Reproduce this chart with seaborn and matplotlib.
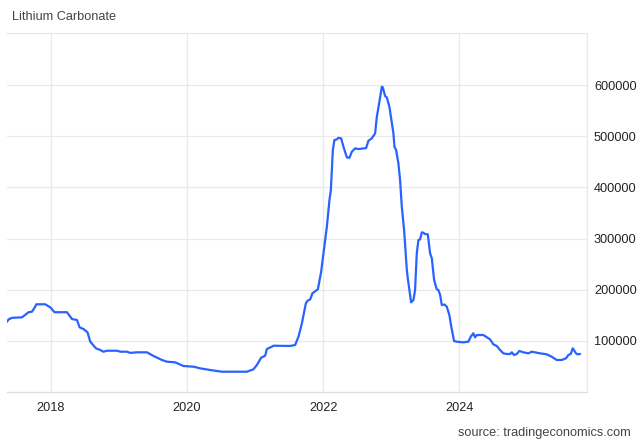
import matplotlib
matplotlib.use("Agg")
import matplotlib.pyplot as plt
import seaborn as sns
import pandas as pd

# decimal year, price (CNY/T)
years = [2017.354, 2017.377, 2017.427, 2017.574, 2017.623, 2017.671, 2017.721, 2017.769, 2017.784,
         2017.916, 2017.990, 2018.053, 2018.235, 2018.308, 2018.382, 2018.420, 2018.479, 2018.537,
         2018.577, 2018.661, 2018.724, 2018.772, 2018.822, 2018.969, 2019.018, 2019.116, 2019.164,
         2019.263, 2019.410, 2019.507, 2019.630, 2019.703, 2019.825, 2019.947, 2020.094, 2020.192,
         2020.339, 2020.511, 2020.878, 2020.975, 2021.025, 2021.088, 2021.147, 2021.172, 2021.245,
         2021.269, 2021.514, 2021.587, 2021.636, 2021.686, 2021.744, 2021.768, 2021.808, 2021.841,
         2021.921, 2021.969, 2022.003, 2022.053, 2022.091, 2022.112, 2022.141, 2022.164, 2022.200,
         2022.223, 2022.263, 2022.297, 2022.347, 2022.385, 2022.420, 2022.468, 2022.517, 2022.630,
         2022.664, 2022.714, 2022.762, 2022.787, 2022.821, 2022.861, 2022.875, 2022.909, 2022.934,
         2022.972, 2023.031, 2023.046, 2023.071, 2023.104, 2023.129, 2023.154, 2023.188, 2023.228,
         2023.242, 2023.266, 2023.291, 2023.325, 2023.349, 2023.374, 2023.398, 2023.423, 2023.448,
         2023.471, 2023.496, 2023.536, 2023.570, 2023.595, 2023.629, 2023.668, 2023.692, 2023.717,
         2023.742, 2023.783, 2023.815, 2023.853, 2023.878, 2023.922, 2023.961, 2024.058, 2024.132,
         2024.167, 2024.205, 2024.230, 2024.256, 2024.352, 2024.451, 2024.499, 2024.549, 2024.598,
         2024.646, 2024.696, 2024.745, 2024.770, 2024.804, 2024.843, 2024.881, 2024.940, 2025.013,
         2025.063, 2025.185, 2025.283, 2025.357, 2025.430, 2025.504, 2025.567, 2025.601, 2025.636,
         2025.666, 2025.714, 2025.733, 2025.773]
prices = [137400, 142000, 145000, 146000, 151000, 156000, 157000, 167000, 171500,
          171500, 165500, 156000, 156000, 142700, 140800, 126500, 123000, 116700,
          98400, 85400, 82100, 78800, 80700, 80700, 78800, 78800, 76500,
          77600, 77600, 70400, 62600, 59300, 58000, 50800, 49500, 46300,
          43000, 39700, 39700, 44400, 52800, 67100, 71000, 84100, 88600,
          90500, 90000, 91900, 108000, 134000, 173000, 178500, 181000, 193000,
          200800, 235000, 271000, 323000, 375000, 395000, 473000, 492700, 494000,
          497000, 496000, 479500, 458800, 458000, 469800, 476400, 475000, 477000,
          491300, 496000, 505700, 538000, 564400, 597000, 595700, 578700, 576000,
          557800, 505700, 479500, 473100, 447100, 414500, 362300, 316700, 238500,
          222300, 199400, 175300, 179900, 199400, 271000, 297200, 298500, 312200,
          311500, 308900, 308300, 271000, 261400, 219000, 200800, 199400, 190000,
          170100, 171000, 166800, 150500, 130000, 99700, 98400, 97100, 98400,
          108100, 114800, 106900, 111400, 111400, 103000, 93200, 90000, 82100,
          75600, 74300, 74300, 77600, 72300, 74300, 80200, 77600, 75600,
          78800, 75600, 73700, 69000, 62600, 62600, 65900, 72300, 74300,
          85400, 75600, 73700, 74300]

x_ticks = [2018, 2020, 2022, 2024]
x_tick_labels = ["2018", "2020", "2022", "2024"]
y_ticks = [100000, 200000, 300000, 400000, 500000, 600000]
y_tick_labels = ["100000", "200000", "300000", "400000", "500000", "600000"]

df = pd.DataFrame({"year": years, "price": prices})

sns.set_style("white")
plt.rcParams["font.family"] = ["Liberation Sans", "DejaVu Sans"]

fig = plt.figure(figsize=(6.4, 4.43), dpi=100)
ax = fig.add_axes([7 / 640, 1 - 392 / 443, 580 / 640, 359 / 443])

grid_c = "#e9e9e9"
sns.lineplot(data=df, x="year", y="price", ax=ax, color="#2962ff", linewidth=1.6, zorder=3)

ax.set_xlim(2017.354, 2025.875)
ax.set_ylim(0, 702000)

ax.set_xticks(x_ticks)
ax.set_xticklabels(x_tick_labels)
ax.set_yticks(y_ticks)
ax.set_yticklabels(y_tick_labels)
ax.yaxis.tick_right()
ax.tick_params(axis="both", length=0, labelsize=9.2, colors="#222222")
ax.tick_params(axis="x", pad=7)
ax.tick_params(axis="y", pad=5)

ax.grid(True, color=grid_c, linewidth=0.9)
ax.set_axisbelow(True)
for side in ["left"]:
    ax.spines[side].set_visible(False)
for side in ["top", "bottom", "right"]:
    ax.spines[side].set_color(grid_c)
    ax.spines[side].set_linewidth(0.9)
ax.spines["bottom"].set_color("#dedede")

ax.set_xlabel("")
ax.set_ylabel("")

fig.text(12 / 640, 1 - 17 / 443, "Lithium Carbonate", fontsize=9.2, color="#444444",
         ha="left", va="center")
fig.text(631 / 640, 1 - 433 / 443, "source: tradingeconomics.com", fontsize=9.2,
         color="#444444", ha="right", va="center")

fig.savefig("out.png", dpi=100)
